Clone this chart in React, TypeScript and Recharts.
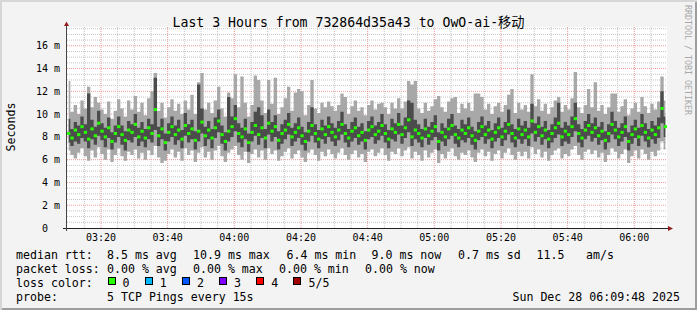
import React from 'react'
import { Area, CartesianGrid, ComposedChart, Scatter, XAxis, YAxis } from 'recharts'

const MONO = '"DejaVu Sans Mono", "Noto Sans CJK SC", monospace'

// one sample per minute, minutes after 03:00
const START = 10.3
const STEP = 1

// 5 pings per sample, sorted: min / 2nd / median / 4th / max (ms)
const rttMin = [
  6.8, 6.4, 6.1, 6.6, 7.0, 6.3, 5.9, 6.8, 6.2, 7.1,
  6.5, 6.0, 6.9, 5.8, 6.4, 7.0, 6.3, 5.9, 6.7, 6.4,
  6.9, 6.1, 6.6, 6.0, 6.8, 6.4, 7.2, 6.2, 5.7, 5.9,
  6.5, 6.9, 6.2, 6.7, 5.9, 7.0, 6.4, 6.8, 5.8, 6.6,
  7.1, 6.2, 6.7, 6.0, 6.8, 7.2, 6.3, 5.8, 6.6, 6.9,
  7.2, 6.4, 6.0, 6.7, 5.7, 6.5, 6.9, 6.2, 6.8, 6.0,
  7.0, 6.5, 6.8, 5.9, 6.3, 6.7, 7.0, 6.1, 6.5, 6.8,
  6.2, 5.8, 6.6, 6.9, 6.4, 5.9, 6.7, 6.3, 6.9, 6.5,
  6.1, 6.6, 7.0, 6.4, 6.0, 6.5, 6.8, 6.2, 6.5, 5.8,
  6.7, 6.9, 6.3, 6.6, 7.0, 6.4, 5.9, 6.7, 6.5, 7.0,
  6.3, 6.8, 7.1, 6.1, 6.7, 6.4, 5.9, 6.8, 6.2, 6.6,
  6.9, 5.7, 6.5, 6.1, 6.7, 7.0, 6.3, 6.0, 6.6, 6.4,
  6.8, 6.2, 5.8, 6.6, 6.9, 6.3, 6.7, 5.9, 6.5, 6.8,
  6.1, 6.6, 7.0, 6.4, 6.0, 6.7, 6.3, 6.7, 6.1, 7.1,
  6.5, 6.9, 6.2, 6.7, 5.9, 6.4, 6.8, 7.0, 6.1, 6.5,
  6.3, 6.9, 7.2, 6.4, 6.0, 6.7, 6.9, 6.5, 6.8, 6.2,
  6.6, 5.8, 6.4, 7.0, 6.7, 6.1, 6.5, 6.9, 5.7, 6.3,
  6.8, 6.1, 6.9, 6.5, 6.0, 6.7, 6.3, 6.8, 7.6, 6.9,
]

const rttLow = [
  7.5, 7.2, 7.6, 7.4, 7.9, 7.6, 7.0, 7.8, 7.3, 8.1,
  7.7, 7.1, 7.9, 6.9, 7.5, 8.0, 7.3, 6.8, 7.7, 7.5,
  8.0, 7.2, 7.6, 7.1, 7.8, 7.5, 8.6, 7.2, 7.8, 6.8,
  7.6, 8.0, 7.3, 7.7, 7.0, 8.1, 7.5, 7.8, 6.9, 7.6,
  8.3, 7.2, 7.8, 7.0, 7.9, 8.4, 7.4, 6.8, 7.6, 8.0,
  8.5, 7.5, 7.1, 7.8, 6.7, 7.6, 8.1, 7.3, 7.9, 7.0,
  8.2, 7.6, 8.0, 6.9, 7.4, 7.8, 8.2, 7.2, 7.6, 7.9,
  7.3, 6.8, 7.6, 8.1, 7.5, 7.0, 7.8, 7.4, 8.0, 7.6,
  7.2, 7.7, 8.2, 7.5, 7.1, 7.6, 7.9, 7.3, 7.6, 6.9,
  7.8, 8.0, 7.4, 7.7, 8.1, 7.5, 7.0, 7.8, 7.6, 8.2,
  7.4, 7.9, 8.4, 7.2, 7.8, 7.5, 7.1, 7.9, 7.3, 7.7,
  8.0, 6.8, 7.6, 7.2, 7.8, 8.1, 7.4, 7.1, 7.7, 7.5,
  7.9, 7.3, 6.9, 7.7, 8.0, 7.4, 7.8, 7.0, 7.6, 7.9,
  7.2, 7.7, 8.2, 7.5, 7.1, 7.8, 7.4, 7.8, 7.2, 8.3,
  7.6, 8.0, 7.3, 7.8, 7.0, 7.5, 7.9, 8.2, 7.2, 7.6,
  7.4, 8.0, 8.5, 7.5, 7.1, 7.8, 8.1, 7.6, 7.9, 7.3,
  7.7, 6.9, 7.5, 8.2, 7.8, 7.2, 7.6, 8.0, 6.8, 7.4,
  7.9, 7.2, 8.1, 7.6, 7.1, 7.8, 7.4, 7.9, 9.2, 8.0,
]

const rttMedian = [
  8.3, 7.9, 8.6, 8.2, 8.9, 8.4, 7.8, 8.7, 8.1, 9.2,
  8.5, 8.0, 8.8, 7.6, 8.3, 8.9, 8.2, 7.7, 8.6, 8.4,
  9.1, 8.0, 8.5, 7.9, 8.8, 8.3, 10.4, 8.1, 8.7, 7.5,
  8.4, 8.9, 8.2, 8.6, 7.8, 9.0, 8.3, 8.7, 7.7, 8.5,
  9.3, 8.1, 8.6, 7.9, 8.8, 9.4, 8.2, 7.6, 8.5, 8.9,
  9.6, 8.3, 8.0, 8.7, 7.5, 8.4, 9.0, 8.2, 8.8, 7.9,
  9.2, 8.5, 8.9, 7.7, 8.3, 8.6, 9.1, 8.0, 8.4, 8.8,
  8.1, 7.6, 8.5, 9.0, 8.3, 7.8, 8.7, 8.2, 8.9, 8.4,
  8.0, 8.6, 9.1, 8.3, 7.9, 8.5, 8.8, 8.1, 8.4, 7.7,
  8.6, 8.9, 8.2, 8.5, 9.0, 8.3, 7.8, 8.7, 8.4, 9.1,
  8.2, 8.8, 9.5, 8.0, 8.6, 8.3, 7.9, 8.7, 8.1, 8.5,
  8.9, 7.6, 8.4, 8.0, 8.7, 9.0, 8.2, 7.9, 8.6, 8.3,
  8.8, 8.1, 7.7, 8.5, 8.9, 8.2, 8.6, 7.8, 8.4, 8.8,
  8.0, 8.5, 9.1, 8.3, 7.9, 8.7, 8.2, 8.6, 8.0, 9.4,
  8.4, 8.9, 8.1, 8.6, 7.8, 8.3, 8.8, 9.2, 8.0, 8.5,
  8.2, 8.9, 9.6, 8.3, 7.9, 8.6, 9.0, 8.4, 8.8, 8.1,
  8.5, 7.7, 8.3, 9.1, 8.6, 8.0, 8.4, 8.9, 7.6, 8.2,
  8.7, 8.0, 9.0, 8.4, 7.9, 8.6, 8.2, 8.8, 10.5, 8.9,
]

const rttHigh = [
  9.6, 8.7, 9.3, 9.0, 9.8, 9.1, 11.8, 9.5, 8.9, 10.3,
  9.2, 8.8, 9.7, 8.4, 9.0, 9.8, 9.0, 8.5, 9.4, 9.1,
  10.0, 8.8, 9.3, 8.7, 9.6, 9.1, 13.2, 8.9, 9.6, 8.3,
  9.2, 9.8, 9.0, 9.5, 8.6, 10.1, 9.1, 9.5, 8.5, 12.6,
  10.5, 8.9, 9.4, 8.7, 9.7, 10.4, 9.0, 8.4, 11.5, 9.8,
  10.8, 9.2, 8.8, 9.6, 8.3, 9.3, 10.2, 10.6, 9.9, 8.7,
  10.4, 9.3, 9.9, 8.5, 9.1, 9.5, 10.1, 8.8, 9.2, 9.7,
  8.9, 8.4, 9.3, 10.6, 9.1, 8.6, 9.5, 9.0, 9.8, 9.2,
  8.8, 9.4, 10.2, 9.1, 8.7, 9.3, 9.7, 8.9, 9.2, 8.5,
  9.4, 9.8, 9.0, 9.3, 10.0, 9.1, 8.6, 9.6, 9.2, 10.1,
  9.0, 9.7, 11.2, 11.0, 9.5, 9.1, 8.7, 9.6, 8.9, 9.3,
  9.9, 8.4, 9.2, 8.8, 9.6, 10.0, 9.0, 8.7, 9.5, 9.1,
  9.7, 8.9, 8.5, 9.3, 9.8, 9.0, 9.4, 8.6, 9.2, 9.7,
  8.8, 9.3, 10.4, 9.1, 8.7, 9.6, 9.0, 9.4, 8.8, 10.9,
  9.2, 9.8, 8.9, 9.4, 8.6, 9.1, 9.7, 11.0, 8.8, 9.3,
  9.0, 9.8, 11.0, 9.1, 8.7, 9.4, 10.0, 9.2, 9.7, 8.9,
  9.3, 8.5, 9.1, 10.2, 9.4, 8.8, 9.2, 9.8, 8.4, 9.0,
  9.5, 8.8, 10.0, 9.2, 8.7, 9.4, 9.0, 9.7, 12.0, 9.8,
]

const rttMax = [
  12.9, 10.2, 10.8, 10.0, 11.2, 10.5, 12.4, 10.6, 11.5, 11.0,
  10.4, 10.0, 11.1, 9.6, 10.3, 11.3, 10.5, 9.8, 11.2, 10.4,
  11.6, 10.2, 11.0, 9.9, 11.4, 12.0, 13.6, 10.3, 11.0, 9.7,
  10.6, 11.3, 10.3, 10.9, 10.0, 11.2, 10.4, 11.7, 10.0, 12.8,
  13.6, 10.4, 11.0, 10.1, 11.2, 12.4, 10.5, 9.8, 11.9, 11.4,
  13.5, 10.6, 13.3, 11.0, 9.8, 10.8, 13.4, 13.0, 11.2, 10.1,
  13.0, 10.9, 13.2, 10.0, 10.6, 11.4, 12.4, 10.3, 11.9, 12.2,
  12.0, 9.9, 10.8, 13.0, 10.5, 10.1, 11.0, 10.6, 11.1, 10.7,
  10.3, 10.8, 11.8, 11.5, 10.0, 10.7, 11.2, 10.3, 10.6, 9.9,
  10.8, 11.2, 10.4, 10.9, 11.0, 10.6, 10.0, 11.0, 10.5, 11.4,
  10.5, 11.1, 12.9, 12.6, 12.9, 10.5, 10.1, 11.0, 10.3, 10.7,
  11.3, 11.6, 10.6, 10.2, 11.1, 11.4, 11.5, 10.1, 10.9, 10.5,
  11.0, 10.3, 11.8, 11.8, 11.5, 10.4, 10.9, 10.0, 10.7, 11.0,
  10.2, 10.8, 11.7, 12.2, 10.1, 11.0, 10.4, 10.8, 10.2, 13.5,
  10.7, 11.3, 10.3, 10.9, 10.0, 10.6, 11.2, 11.5, 10.2, 10.8,
  10.4, 11.4, 13.7, 10.6, 10.1, 10.8, 12.2, 10.6, 12.8, 10.3,
  10.8, 10.0, 10.6, 11.8, 11.8, 10.2, 10.7, 11.3, 9.9, 10.5,
  11.0, 10.2, 11.5, 10.7, 10.1, 10.9, 10.4, 11.1, 13.3, 11.2,
]

const timeTicks = [20, 40, 60, 80, 100, 120, 140, 160, 180]
const rttTicks = [0, 2, 4, 6, 8, 10, 12, 14, 16]

const lossColors = ['#26ff00', '#00b8ff', '#0059ff', '#7e00ff', '#ff0000', '#a10000']
const lossLabels = ['0', '1', '2', '3', '4', '5/5']

const data = rttMedian.map((med, i) => ({
  t: START + i * STEP,
  outer: [rttMin[i], rttMax[i]],
  inner: [rttLow[i], rttHigh[i]],
  med,
}))

// grid values
const minorH: number[] = []
for (let v = 0.5; v <= 17.5; v += 0.5) if (v % 2 !== 0) minorH.push(v)
const majorH = rttTicks.filter((v) => v > 0)
const minorV: number[] = []
for (let m = 15; m <= 185; m += 5) if (m % 20 !== 0) minorV.push(m)

const hhmm = (t: number) => {
  const h = 3 + Math.floor(t / 60)
  const m = Math.round(t % 60)
  return `${String(h).padStart(2, '0')}:${String(m).padStart(2, '0')}`
}

const TimeTick = ({ x, y, payload }: any) => (
  <text x={x} y={y} dy={12.7} textAnchor="middle" fontSize={10} fontFamily={MONO} fill="#000">
    {hhmm(payload.value)}
  </text>
)

const RttTick = ({ x, y, payload }: any) => (
  <text x={x} y={y} dy={3.6} textAnchor="end" fontSize={10} fontFamily={MONO} fill="#000">
    {payload.value === 0 ? '0\u00a0\u00a0' : `${payload.value} m`}
  </text>
)

const MedianMark = ({ cx, cy }: any) => (
  <rect x={cx - 1.6} y={cy - 1.5} width={3.3} height={3} fill="#26ff00" />
)

const T = ({ x, y, children, anchor }: any) => (
  <text x={x} y={y} textAnchor={anchor || 'start'} fontSize={11.6} fill="#000">
    {children}
  </text>
)

export default function App() {
  return (
    <div
      style={{
        position: 'absolute',
        left: 0,
        top: 0,
        width: 697,
        height: 310,
        background: '#f3f3f3',
        boxShadow: 'inset 2px 2px 0 #d6d6d6, inset -2px -2px 0 #9d9d9d',
        fontFamily: MONO,
      }}
    >
      <div style={{ position: 'absolute', left: 0, top: 0 }}>
        <ComposedChart
          width={697}
          height={310}
          data={data}
          margin={{ top: 27, right: 30, bottom: 0, left: 0 }}
        >
          <CartesianGrid fill="#ffffff" horizontal={false} vertical={false} />
          <XAxis
            type="number"
            dataKey="t"
            domain={[9.8, 189.8]}
            allowDataOverflow
            ticks={timeTicks}
            interval={0}
            height={82}
            tick={<TimeTick />}
            tickLine={false}
            axisLine={false}
            tickSize={0}
            tickMargin={0}
          />
          <YAxis
            type="number"
            domain={[0, 17.65]}
            allowDataOverflow
            ticks={rttTicks}
            interval={0}
            width={67}
            tick={<RttTick />}
            tickLine={false}
            axisLine={false}
            tickSize={0}
            tickMargin={7}
          />
          <Area
            dataKey="outer"
            type="step"
            stroke="none"
            fill="#a8a8a8"
            fillOpacity={1}
            dot={false}
            activeDot={false}
            isAnimationActive={false}
          />
          <Area
            dataKey="inner"
            type="step"
            stroke="none"
            fill="#4c4c4c"
            fillOpacity={1}
            dot={false}
            activeDot={false}
            isAnimationActive={false}
          />
          <CartesianGrid
            horizontalValues={minorH}
            verticalValues={minorV}
            stroke="#c4c4c4"
            strokeDasharray="1 1"
          />
          <CartesianGrid
            horizontalValues={majorH}
            verticalValues={timeTicks}
            stroke="#f29a9a"
            strokeDasharray="1 1"
          />
          <Scatter dataKey="med" shape={<MedianMark />} isAnimationActive={false} />
        </ComposedChart>
      </div>

      <svg
        width={697}
        height={310}
        style={{ position: 'absolute', left: 0, top: 0, pointerEvents: 'none' }}
        fontFamily={MONO}
      >
        {/* axes with arrows */}
        <line x1={63} y1={228.5} x2={668} y2={228.5} stroke="#222" />
        <polygon points="668,226 673,228.5 668,231" fill="#951c1c" />
        <line x1={66.5} y1={231} x2={66.5} y2={26} stroke="#444" />
        <polygon points="64,26 66.5,21.5 69,26" fill="#951c1c" />

        <text x={348.5} y={26.5} textAnchor="middle" fontSize={13.2} fill="#000">
          Last 3 Hours from 732864d35a43 to OwO-ai-移动
        </text>
        <text transform="translate(14.5,127) rotate(-90)" textAnchor="middle" fontSize={11.6} fill="#000">
          Seconds
        </text>
        <text transform="translate(685,5) rotate(90)" fontSize={8.3} fill="#a8a8a8">
          RRDTOOL / TOBI OETIKER
        </text>

        <T x={16} y={258.5}>median rtt:</T>
        <T x={107} y={258.5}>8.5 ms avg</T>
        <T x={193} y={258.5}>10.9 ms max</T>
        <T x={286.5} y={258.5}>6.4 ms min</T>
        <T x={371.5} y={258.5}>9.0 ms now</T>
        <T x={458} y={258.5}>0.7 ms sd</T>
        <T x={536.5} y={258.5}>11.5</T>
        <T x={586} y={258.5}>am/s</T>

        <T x={16} y={272.5}>packet loss:</T>
        <T x={107} y={272.5}>0.00 % avg</T>
        <T x={193} y={272.5}>0.00 % max</T>
        <T x={279} y={272.5}>0.00 % min</T>
        <T x={365} y={272.5}>0.00 % now</T>

        <T x={16} y={286.5}>loss color:</T>
        {lossColors.map((c, i) => (
          <g key={c}>
            <rect x={108.5 + i * 37} y={277.5} width={7} height={7} fill={c} stroke="#000" />
            <T x={122.5 + i * 37.2} y={286.5}>{lossLabels[i]}</T>
          </g>
        ))}

        <T x={16} y={300.5}>probe:</T>
        <T x={107} y={300.5}>5 TCP Pings every 15s</T>
        <T x={680} y={300.5} anchor="end">Sun Dec 28 06:09:48 2025</T>
      </svg>
    </div>
  )
}
